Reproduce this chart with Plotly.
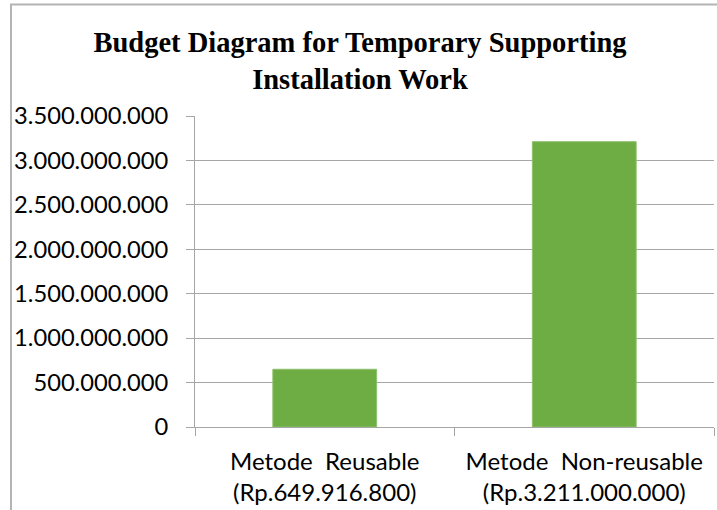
import plotly.graph_objects as go

categories = ["Metode\u00a0\u00a0Reusable<br>(Rp.649.916.800)",
              "Metode\u00a0\u00a0Non-reusable<br>(Rp.3.211.000.000)"]
values = [649916800, 3211000000]
tick_vals = [0, 500000000, 1000000000, 1500000000, 2000000000,
             2500000000, 3000000000, 3500000000]
title_text = "Budget Diagram for Temporary Supporting<br>Installation Work"

W, H = 717, 510
L, R, T, B = 195, 3, 116, 83
pw, ph = W - L - R, H - T - B

def px(x):
    return (x - L) / pw

def py(y):
    return (H - B - y) / ph

fig = go.Figure()
fig.add_trace(go.Bar(
    x=categories, y=values,
    marker=dict(color="#6EAC44", line=dict(color="#8DC06C", width=1)),
    width=0.4,
))

grey = "#A6A6A6"
fig.update_layout(
    width=W, height=H,
    margin=dict(l=L, r=R, t=T, b=B),
    paper_bgcolor="white", plot_bgcolor="white",
    separators=",.",
    showlegend=False,
    font=dict(family="Lato, Carlito, sans-serif", size=24, color="black"),
    title=dict(text=title_text, x=px(360), xref="paper", xanchor="center",
               y=1 - 52 / H, yanchor="middle",
               font=dict(family="Liberation Serif, Times New Roman, serif",
                         size=28.5, color="black", weight="bold")),
    xaxis=dict(showgrid=False, showline=True, linecolor=grey, linewidth=1,
               ticks="outside", tickson="boundaries", ticklen=8,
               tickcolor=grey, tickwidth=1, ticklabelstandoff=13,
               tickfont=dict(size=24)),
    yaxis=dict(range=[0, 3.5e9], tickvals=tick_vals, tickformat=",d",
               showgrid=True, gridcolor=grey, gridwidth=1,
               showline=True, linecolor=grey, linewidth=1,
               ticks="outside", ticklen=8, tickcolor=grey, tickwidth=1,
               ticklabelstandoff=13, zeroline=False,
               tickfont=dict(size=23.7)),
    shapes=[
        dict(type="line", xref="paper", yref="paper",
             x0=px(11), x1=px(11), y0=py(4.5), y1=py(520),
             line=dict(color="#B4B4B4", width=2)),
        dict(type="line", xref="paper", yref="paper",
             x0=px(10), x1=px(730), y0=py(4.5), y1=py(4.5),
             line=dict(color="#B4B4B4", width=2)),
    ],
)

fig.write_html("out.html", config={"displayModeBar": False},
               post_script="document.body.style.margin='0';")
